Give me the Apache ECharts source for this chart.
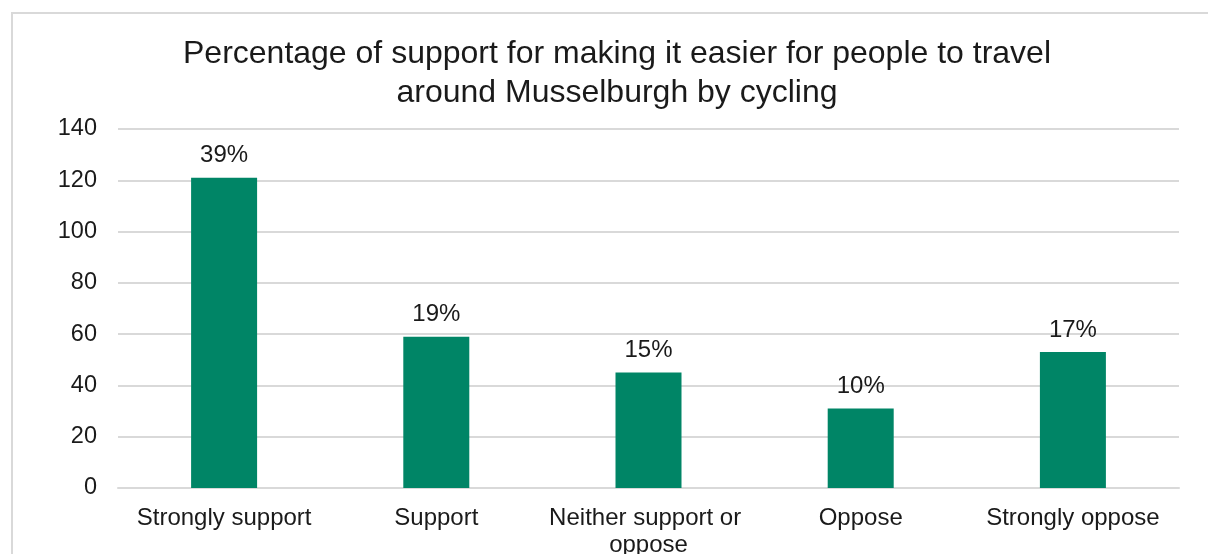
<!DOCTYPE html>
<html>
<head>
<meta charset="utf-8">
<style>
  html, body { margin: 0; padding: 0; background: #ffffff; }
  #frame {
    position: absolute; left: 11px; top: 12px;
    width: 1400px; height: 800px;
    border: 2px solid #d9d9d9; box-sizing: border-box;
  }
  #chart { position: absolute; left: 0; top: 0; width: 1208px; height: 554px; }
</style>
<script src="https://cdn.jsdelivr.net/npm/echarts@6/dist/echarts.min.js"></script>
</head>
<body>
<div id="frame"></div>
<div id="chart"></div>
<script>
// Survey responses: support for making cycling around Musselburgh easier
const titleText = 'Percentage of support for making it easier for people to travel\naround Musselburgh by cycling';
const categories = ['Strongly support', 'Support', 'Neither support or oppose', 'Oppose', 'Strongly oppose'];
const counts = [121, 59, 45, 31, 53];
const yTicks = { min: 0, max: 140, interval: 20 };

const total = counts.reduce((a, b) => a + b, 0);
const textColor = '#1a1a1a';
const fontFamily = '"Liberation Sans", Arial, sans-serif';

const chart = echarts.init(document.getElementById('chart'), null, { renderer: 'canvas' });
chart.setOption({
  backgroundColor: 'transparent',
  animation: false,
  title: {
    text: titleText,
    left: 617, top: 35, textAlign: 'center', padding: 0,
    textStyle: { fontFamily, fontSize: 32, fontWeight: 'normal', color: textColor, lineHeight: 39 }
  },
  grid: { left: 118, right: 29, top: 129, bottom: 66, containLabel: false, outerBoundsMode: 'none' },
  xAxis: {
    type: 'category',
    data: categories,
    axisLine: { show: true, lineStyle: { color: '#d9d9d9', width: 2 } },
    axisTick: { show: false },
    axisLabel: {
      interval: 0, margin: 17, color: textColor, fontFamily, fontSize: 24,
      lineHeight: 27, width: 205, overflow: 'break'
    }
  },
  yAxis: {
    type: 'value',
    min: yTicks.min, max: yTicks.max, interval: yTicks.interval,
    axisLine: { show: false },
    axisTick: { show: false },
    splitLine: { lineStyle: { color: '#d9d9d9', width: 2 } },
    axisLabel: { margin: 21, color: textColor, fontFamily, fontSize: 23.5 }
  },
  series: [{
    type: 'bar',
    data: counts,
    barWidth: 66,
    itemStyle: { color: '#008566' },
    label: {
      show: true, position: 'top', distance: 10,
      color: textColor, fontFamily, fontSize: 24,
      formatter: p => Math.round(p.value / total * 100) + '%'
    }
  }]
});
</script>
</body>
</html>
